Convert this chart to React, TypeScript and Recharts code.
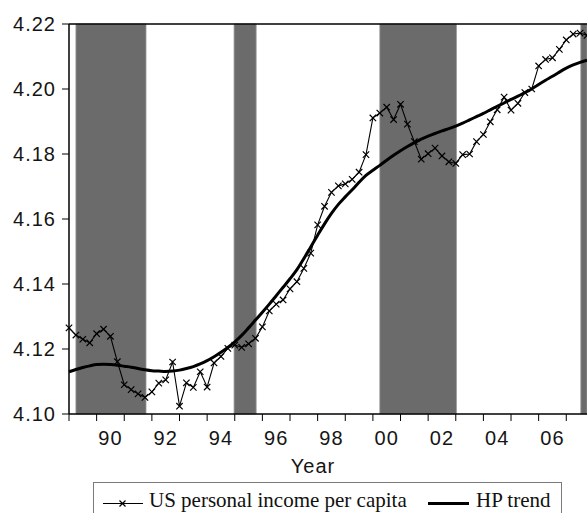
import { ComposedChart, Line, XAxis, YAxis, ReferenceArea, ReferenceLine } from 'recharts';

// quarterly, 1989Q1 .. 2007Q4
const START_YEAR = 1989;

const income = [
  4.1265, 4.1243, 4.1230, 4.1219, 4.1247, 4.1261, 4.1239, 4.1161,
  4.1090, 4.1075, 4.1062, 4.1051, 4.1068, 4.1095, 4.1105, 4.1160,
  4.1024, 4.1096, 4.1082, 4.1130, 4.1083, 4.1157, 4.1177, 4.1202,
  4.1212, 4.1205, 4.1216, 4.1233, 4.1268, 4.1317, 4.1338, 4.1351,
  4.1385, 4.1407, 4.1448, 4.1495, 4.1582, 4.1639, 4.1682, 4.1702,
  4.1708, 4.1722, 4.1744, 4.1798, 4.1911, 4.1926, 4.1944, 4.1906,
  4.1953, 4.1892, 4.1838, 4.1784, 4.1801, 4.1818, 4.1794, 4.1776,
  4.1771, 4.1798, 4.1800, 4.1838, 4.1860, 4.1899, 4.1936, 4.1975,
  4.1935, 4.1956, 4.1989, 4.2000, 4.2071, 4.2091, 4.2096, 4.2122,
  4.2151, 4.2169, 4.2172, 4.2165,
];

const hpTrend = [
  4.1130, 4.1137, 4.1143, 4.1148, 4.1152, 4.1153, 4.1152, 4.1150,
  4.1147, 4.1144, 4.1140, 4.1136, 4.1133, 4.1132, 4.1131, 4.1132,
  4.1135, 4.1140, 4.1146, 4.1154, 4.1164, 4.1176, 4.1190, 4.1205,
  4.1222, 4.1242, 4.1265, 4.1289, 4.1313, 4.1338, 4.1364, 4.1390,
  4.1416, 4.1444, 4.1478, 4.1514, 4.1550, 4.1585, 4.1617, 4.1645,
  4.1668, 4.1690, 4.1713, 4.1734, 4.1750, 4.1765, 4.1781, 4.1796,
  4.1810, 4.1823, 4.1835, 4.1846, 4.1855, 4.1863, 4.1871, 4.1878,
  4.1886, 4.1895, 4.1905, 4.1915, 4.1925, 4.1936, 4.1947, 4.1957,
  4.1968, 4.1978, 4.1989, 4.2000, 4.2014, 4.2027, 4.2039, 4.2052,
  4.2064, 4.2074, 4.2082, 4.2089,
];

// tick marks at the start of each year, labels in the middle of even years
const yearTicks = [0, 4, 8, 12, 16, 20, 24, 28, 32, 36, 40, 44, 48, 52, 56, 60, 64, 68, 72];
const labelTicks = [6, 14, 22, 30, 38, 46, 54, 62, 70];
const yearLabels = ['90', '92', '94', '96', '98', '00', '02', '04', '06'];
const yTicks = [4.10, 4.12, 4.14, 4.16, 4.18, 4.20, 4.22];

// shaded periods (quarter index units)
const shaded = [
  [1, 11.15],
  [23.9, 27.1],
  [45, 56.1],
  [74.1, 75],
];

const data = income.map((v, i) => ({
  t: i,
  quarter: `${START_YEAR + Math.floor(i / 4)}Q${(i % 4) + 1}`,
  income: v,
  hp: hpTrend[i],
}));

const allXTicks = [...yearTicks, ...labelTicks].sort((a, b) => a - b);

const sans = '"Liberation Sans", Arial, Helvetica, sans-serif';
const serif = '"Liberation Serif", "Times New Roman", serif';
const textColor = '#151515';

const XMark = (props: any) => {
  const { cx, cy, index } = props;
  if (cx == null || cy == null) return <g key={`x-${index}`} />;
  const r = 3.2;
  return (
    <path
      key={`x-${index}`}
      d={`M${cx - r},${cy - r}L${cx + r},${cy + r}M${cx - r},${cy + r}L${cx + r},${cy - r}`}
      stroke="#000"
      strokeWidth={1.2}
      fill="none"
    />
  );
};

const XTick = (props: any) => {
  const { x, y, payload } = props;
  const li = labelTicks.indexOf(payload.value);
  if (li >= 0) {
    return (
      <text x={x} y={y + 31} textAnchor="middle" fontFamily={sans} fontSize={20} letterSpacing={1} fill={textColor}>
        {yearLabels[li]}
      </text>
    );
  }
  return <line x1={x} y1={y} x2={x} y2={y + 7} stroke="#000" strokeWidth={1} />;
};

const YTick = (props: any) => {
  const { x, y, payload } = props;
  return (
    <g>
      <line x1={x - 7} y1={y} x2={x} y2={y} stroke="#000" strokeWidth={1} />
      <text x={x - 13} y={y + 7} textAnchor="end" fontFamily={sans} fontSize={20} letterSpacing={1} fill={textColor}>
        {payload.value.toFixed(2)}
      </text>
    </g>
  );
};

export default function App() {
  return (
    <div style={{ position: 'absolute', left: 0, top: 0, width: 587, height: 513, overflow: 'hidden', background: '#fff' }}>
      <ComposedChart width={587} height={513} data={data} margin={{ top: 24, right: 0, bottom: 0, left: 0 }}>
        <XAxis
          dataKey="t"
          type="number"
          domain={[0, 75]}
          ticks={allXTicks}
          interval={0}
          tick={XTick}
          tickLine={false}
          tickSize={0}
          tickMargin={0}
          height={99}
          axisLine={{ stroke: '#000', strokeWidth: 1.5 }}
          label={{
            content: (p: any) => {
              const vb = p.viewBox;
              return (
                <text x={vb.x + vb.width / 2 - 15} y={473} textAnchor="middle" fontFamily={sans} fontSize={20} letterSpacing={1} fill={textColor}>
                  Year
                </text>
              );
            },
          }}
        />
        <YAxis
          domain={[4.1, 4.22]}
          ticks={yTicks}
          interval={0}
          width={69}
          tick={YTick}
          tickLine={false}
          tickSize={0}
          tickMargin={0}
          axisLine={{ stroke: '#000', strokeWidth: 1.5 }}
          allowDataOverflow
        />
        {shaded.map(([a, b]) => (
          <ReferenceArea
            key={a}
            x1={a}
            x2={b}
            y1={4.1}
            y2={4.22}
            fill="#6b6b6b"
            fillOpacity={1}
            stroke="#9a9a9a"
            strokeWidth={0.8}
            ifOverflow="visible"
          />
        ))}
        <ReferenceLine y={4.22} stroke="#000" strokeWidth={1.5} ifOverflow="visible" />
        <Line
          type="linear"
          dataKey="income"
          stroke="#000"
          strokeWidth={1.1}
          dot={XMark}
          activeDot={false}
          isAnimationActive={false}
        />
        <Line
          type="monotone"
          dataKey="hp"
          stroke="#000"
          strokeWidth={3}
          dot={false}
          activeDot={false}
          isAnimationActive={false}
        />
      </ComposedChart>
      <div
        style={{
          position: 'absolute',
          left: 93,
          top: 482,
          width: 469,
          height: 40,
          border: '1px solid #7a7a7a',
          boxSizing: 'border-box',
          fontFamily: serif,
          fontSize: 21,
          color: '#111',
        }}
      >
        <svg width={469} height={40} style={{ position: 'absolute', left: 0, top: 0 }}>
          <line x1={9} y1={20.5} x2={49} y2={20.5} stroke="#000" strokeWidth={1.2} />
          <path d="M25.5,17.5L31.5,23.5M25.5,23.5L31.5,17.5" stroke="#000" strokeWidth={1.2} />
          <line x1={334} y1={20.5} x2={375} y2={20.5} stroke="#000" strokeWidth={3} />
        </svg>
        <span style={{ position: 'absolute', left: 55, top: 5, whiteSpace: 'nowrap', lineHeight: '24px' }}>
          US personal income per capita
        </span>
        <span style={{ position: 'absolute', left: 382, top: 5, whiteSpace: 'nowrap', lineHeight: '24px' }}>
          HP trend
        </span>
      </div>
    </div>
  );
}
